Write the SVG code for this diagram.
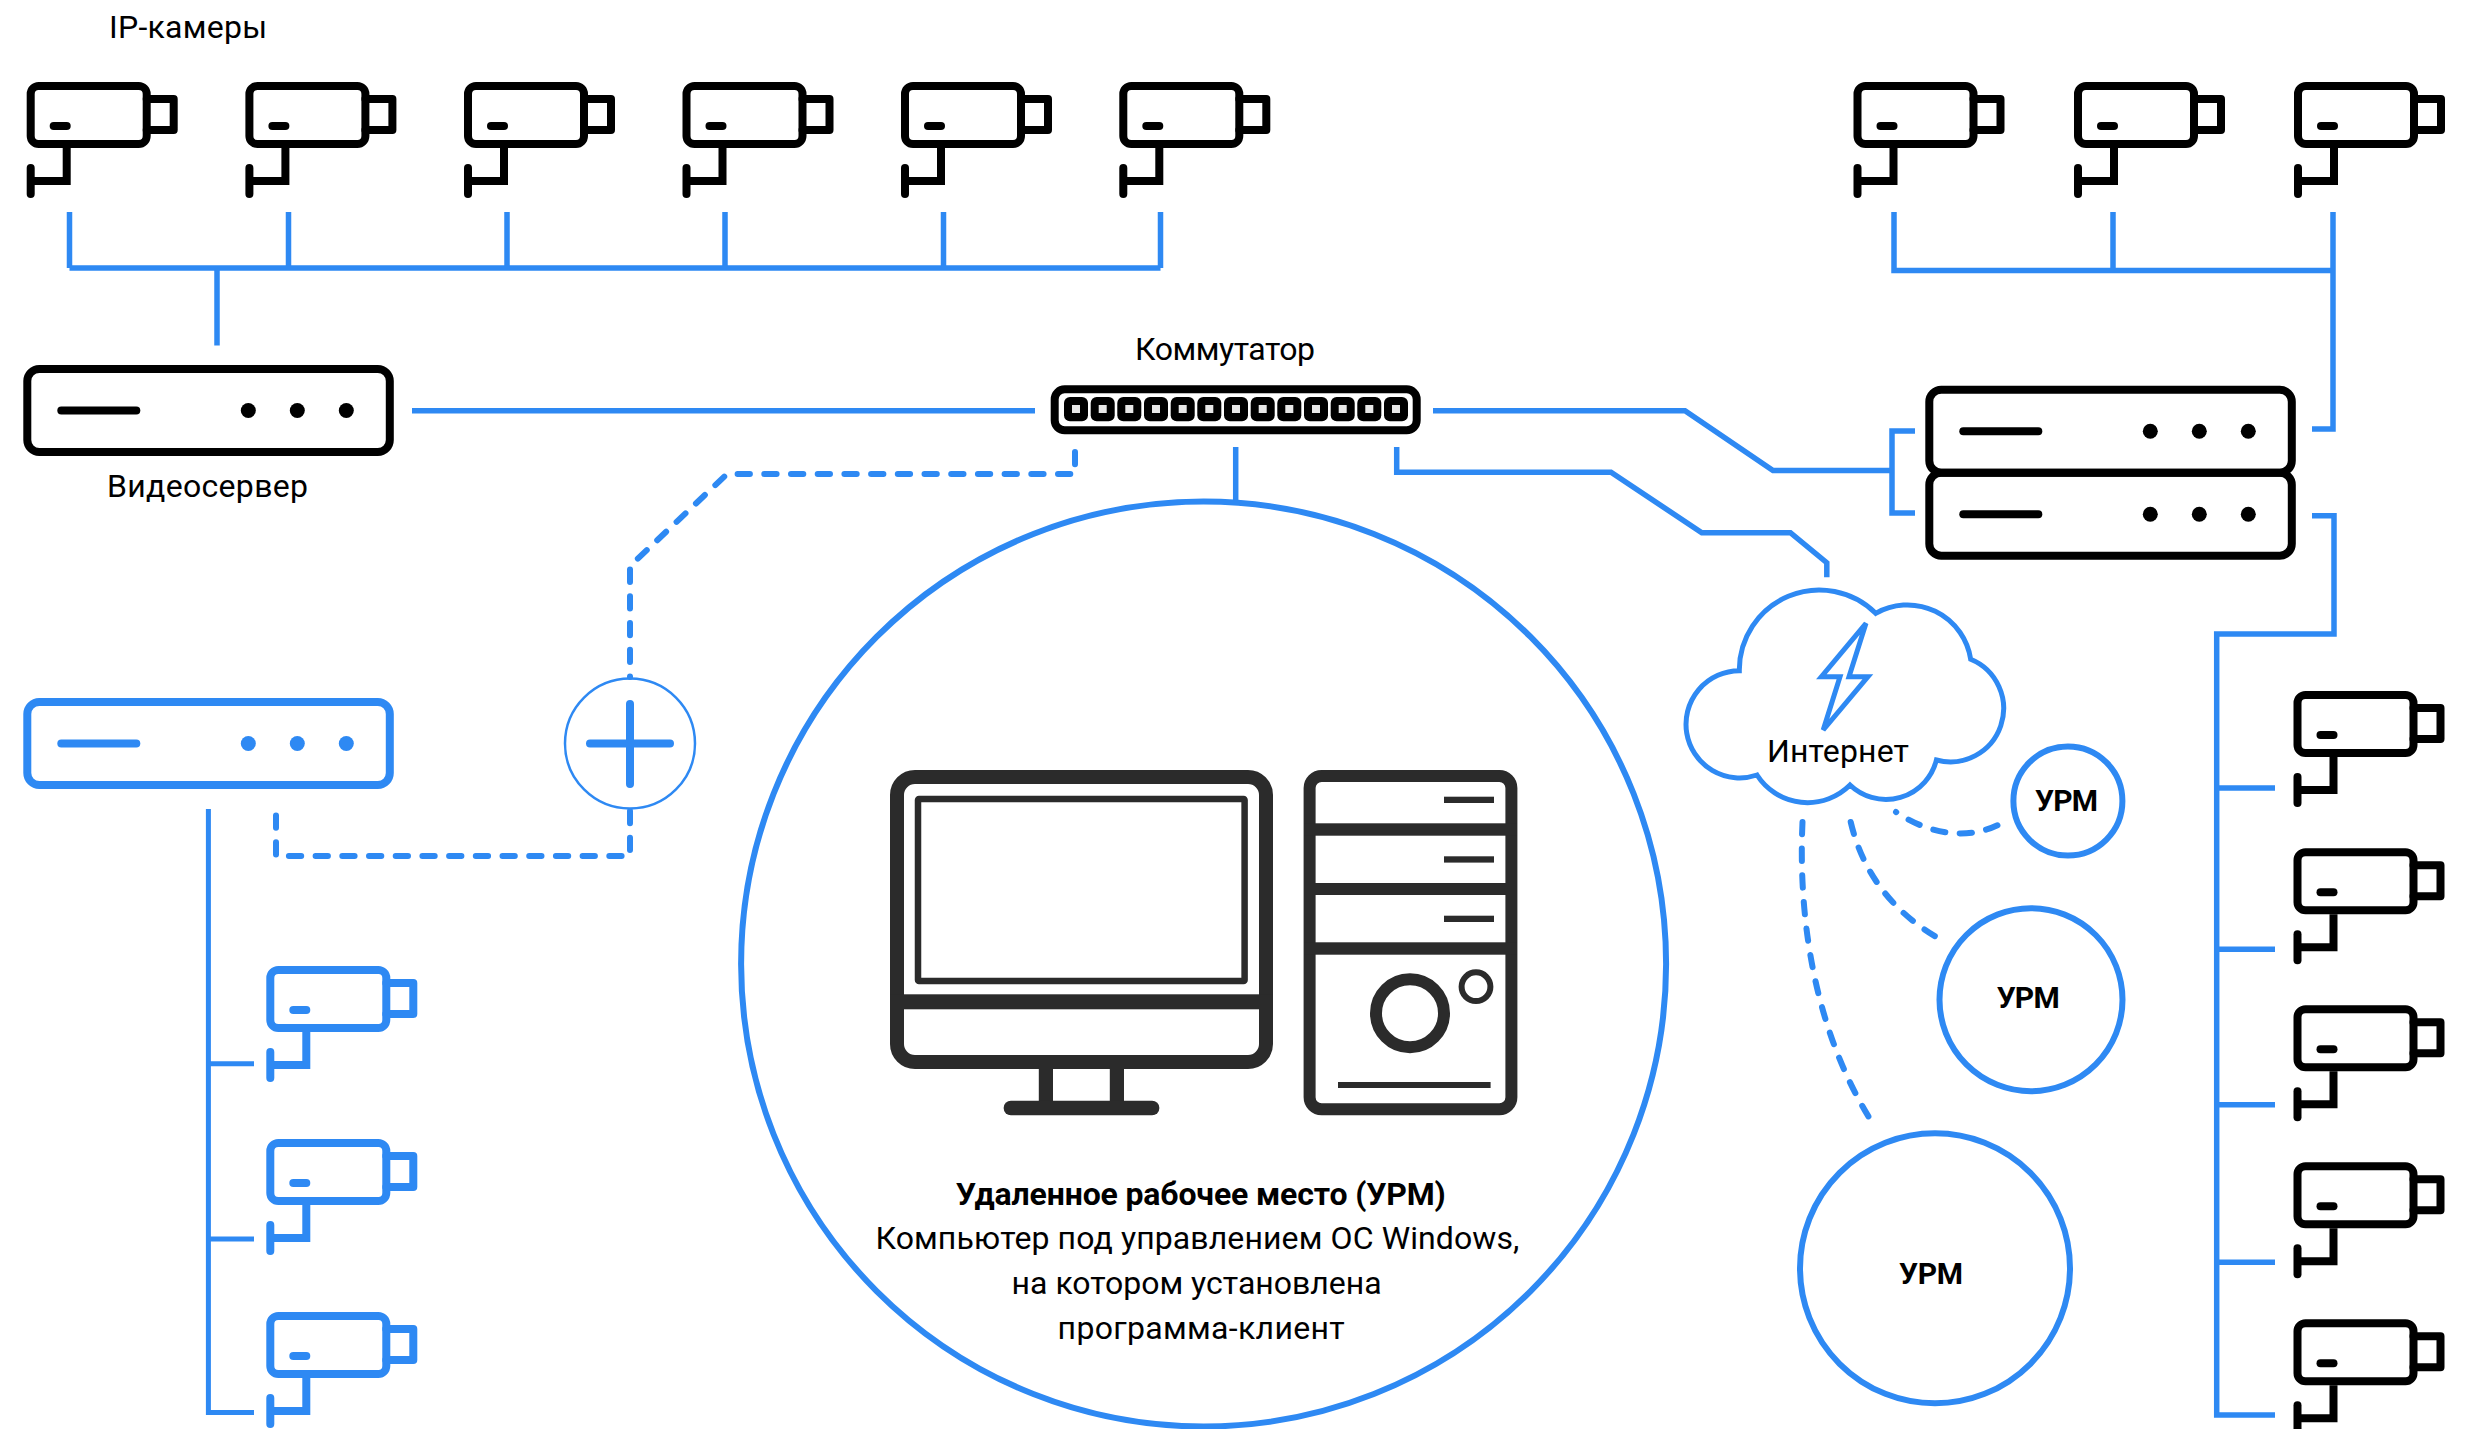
<svg xmlns="http://www.w3.org/2000/svg" xmlns:xlink="http://www.w3.org/1999/xlink" width="2467" height="1429" viewBox="0 0 2467 1429">
<style>
text{font-family:"Roboto","Liberation Sans",sans-serif;font-size:32px;fill:#000}
.b{font-weight:700}
.u{font-size:30px}
.icon{fill:none;stroke:currentColor;stroke-width:8;stroke-linecap:round;stroke-linejoin:round}
.blk{color:#000}.blu{color:#2e89f3}
.cn{fill:none;stroke:#2e89f3;stroke-width:5.5;stroke-linejoin:miter}
.ds{fill:none;stroke:#2e89f3;stroke-width:6;stroke-linecap:round;stroke-linejoin:round;stroke-dasharray:12.3 14.4}
.ci{fill:#fff;stroke:#2e89f3;stroke-width:6}
.pc{fill:#2b2b2b}
.pl{fill:none;stroke:#2b2b2b}
</style>
<defs>
<g id="cam" class="icon">
<rect x="4" y="4" width="116" height="58" rx="8"/>
<path d="M120 17H147V48H120"/>
<path d="M27 44H40"/>
<path d="M40 66V99H4" stroke-linecap="butt" stroke-linejoin="miter"/>
<path d="M4 86V112"/>
</g>
<g id="srv">
<rect class="icon" x="4" y="4" width="362.500" height="83" rx="12"/>
<path class="icon" d="M38 45.500H113"/>
<circle cx="225" cy="45.500" r="7.500" fill="currentColor"/>
<circle cx="274" cy="45.500" r="7.500" fill="currentColor"/>
<circle cx="323" cy="45.500" r="7.500" fill="currentColor"/>
</g>
</defs>

<g id="connectors">
<path class="cn" d="M69.500 212V268M288.500 212V268M507 212V268M725 212V268M943.500 212V268M1160.500 212V268M69.500 268H1160.500M217 268V345.500"/>
<path class="cn" d="M1894 212V270.500H2333M2113 212V270.500M2333 212V429H2312"/>
<path class="cn" d="M412 410.700H1035"/>
<path class="cn" d="M1433 410.700H1685L1773 470.500H1892M1915 431H1892V513H1915"/>
<path class="cn" d="M1396.700 447V472.300H1611L1701.800 532.700H1790.400L1826.800 562.700V577.300"/>
<path class="cn" d="M1235.700 447V502"/>
<path class="cn" d="M2312 515.700H2334V634H2216.700V1415H2275M2216.700 788H2275M2216.700 949.300H2275M2216.700 1104.700H2275M2216.700 1262.300H2275"/>
<path class="cn" style="stroke-width:5" d="M208.400 809V1412.400H254M208.400 1063.700H254M208.400 1239H254"/>
<path class="ds" d="M1075 452V474H727L630 566V677"/>
<path class="ds" d="M630 811V856H276V814"/>
<path class="ds" d="M1802.500 822C1798 920 1815 1030 1870 1119"/>
<path class="ds" d="M1850.700 822C1862 870 1890 910 1938 938"/>
<path class="ds" stroke-dashoffset="12" d="M1896 812C1925 832 1965 842 2000 824"/>
</g>

<g id="cam-top-1" class="blk"><use xlink:href="#cam" href="#cam" x="26.700" y="82"/></g>
<g id="cam-top-2" class="blk"><use xlink:href="#cam" href="#cam" x="245.400" y="82"/></g>
<g id="cam-top-3" class="blk"><use xlink:href="#cam" href="#cam" x="464" y="82"/></g>
<g id="cam-top-4" class="blk"><use xlink:href="#cam" href="#cam" x="682.500" y="82"/></g>
<g id="cam-top-5" class="blk"><use xlink:href="#cam" href="#cam" x="901" y="82"/></g>
<g id="cam-top-6" class="blk"><use xlink:href="#cam" href="#cam" x="1119.300" y="82"/></g>
<g id="cam-topright-1" class="blk"><use xlink:href="#cam" href="#cam" x="1853.500" y="82"/></g>
<g id="cam-topright-2" class="blk"><use xlink:href="#cam" href="#cam" x="2074" y="82"/></g>
<g id="cam-topright-3" class="blk"><use xlink:href="#cam" href="#cam" x="2294" y="82"/></g>
<g id="cam-right-1" class="blk"><use xlink:href="#cam" href="#cam" x="2293.500" y="691"/></g>
<g id="cam-right-2" class="blk"><use xlink:href="#cam" href="#cam" x="2293.500" y="848.300"/></g>
<g id="cam-right-3" class="blk"><use xlink:href="#cam" href="#cam" x="2293.500" y="1005.300"/></g>
<g id="cam-right-4" class="blk"><use xlink:href="#cam" href="#cam" x="2293.500" y="1162.300"/></g>
<g id="cam-right-5" class="blk"><use xlink:href="#cam" href="#cam" x="2293.500" y="1319.300"/></g>
<g id="cam-blue-1" class="blu"><use xlink:href="#cam" href="#cam" x="266.300" y="966"/></g>
<g id="cam-blue-2" class="blu"><use xlink:href="#cam" href="#cam" x="266.300" y="1139"/></g>
<g id="cam-blue-3" class="blu"><use xlink:href="#cam" href="#cam" x="266.300" y="1312"/></g>

<g id="videoserver" class="blk"><use xlink:href="#srv" href="#srv" x="23.300" y="365"/><text x="107" y="497" textLength="201">Видеосервер</text></g>
<g id="server-blue" class="blu"><use xlink:href="#srv" href="#srv" x="23.300" y="698"/></g>
<g id="server-right-1" class="blk"><use xlink:href="#srv" href="#srv" x="1925.300" y="385.700"/></g>
<g id="server-right-2" class="blk"><use xlink:href="#srv" href="#srv" x="1925.300" y="468.700"/></g>
<g id="label-cameras"><text x="109" y="38" textLength="158">IP-камеры</text></g>

<g id="switch">
<rect x="1054.700" y="389.300" width="362" height="41" rx="10" fill="none" stroke="#000" stroke-width="8"/>
<g fill="#000">
<rect x="1064" y="397" width="24" height="24.300" rx="6"/><rect x="1090.700" y="397" width="24" height="24.300" rx="6"/><rect x="1117.300" y="397" width="24" height="24.300" rx="6"/><rect x="1144" y="397" width="24" height="24.300" rx="6"/><rect x="1170.700" y="397" width="24" height="24.300" rx="6"/><rect x="1197.300" y="397" width="24" height="24.300" rx="6"/><rect x="1224" y="397" width="24" height="24.300" rx="6"/><rect x="1250.700" y="397" width="24" height="24.300" rx="6"/><rect x="1277.300" y="397" width="24" height="24.300" rx="6"/><rect x="1304" y="397" width="24" height="24.300" rx="6"/><rect x="1330.700" y="397" width="24" height="24.300" rx="6"/><rect x="1357.300" y="397" width="24" height="24.300" rx="6"/><rect x="1384" y="397" width="24" height="24.300" rx="6"/>
</g>
<g fill="#e8e8e8">
<rect x="1072" y="405" width="8" height="8"/><rect x="1098.700" y="405" width="8" height="8"/><rect x="1125.300" y="405" width="8" height="8"/><rect x="1152" y="405" width="8" height="8"/><rect x="1178.700" y="405" width="8" height="8"/><rect x="1205.300" y="405" width="8" height="8"/><rect x="1232" y="405" width="8" height="8"/><rect x="1258.700" y="405" width="8" height="8"/><rect x="1285.300" y="405" width="8" height="8"/><rect x="1312" y="405" width="8" height="8"/><rect x="1338.700" y="405" width="8" height="8"/><rect x="1365.300" y="405" width="8" height="8"/><rect x="1392" y="405" width="8" height="8"/>
</g>
<text x="1135" y="360" textLength="180">Коммутатор</text>
</g>

<g id="plus">
<circle cx="630" cy="743.500" r="65" fill="none" stroke="#2e89f3" stroke-width="2.500"/>
<path class="icon blu" d="M590 743.500H670M630 704V784"/>
</g>

<g id="workstation">
<circle cx="1203.600" cy="964" r="462.500" fill="none" stroke="#2e89f3" stroke-width="6"/>
<rect class="pl" x="897" y="777" width="369" height="285" rx="18" stroke-width="14"/>
<rect class="pl" x="918" y="799" width="326.600" height="182" rx="1" stroke-width="6.500"/>
<rect class="pc" x="890" y="994.300" width="383" height="15"/>
<rect class="pc" x="1038.800" y="1065" width="14.200" height="38"/>
<rect class="pc" x="1109.800" y="1065" width="14.200" height="38"/>
<rect class="pc" x="1003.600" y="1100.700" width="155.800" height="14.600" rx="7.300"/>
<rect class="pl" x="1309.600" y="776" width="201.800" height="333.300" rx="12" stroke-width="12"/>
<rect class="pc" x="1304" y="823.300" width="213" height="12.400"/>
<rect class="pc" x="1304" y="883" width="213" height="12"/>
<rect class="pc" x="1304" y="942.300" width="213" height="12.400"/>
<rect class="pc" x="1444" y="796.700" width="50" height="6.300"/>
<rect class="pc" x="1444" y="856.300" width="50" height="6.300"/>
<rect class="pc" x="1444" y="915.700" width="50" height="6.300"/>
<circle class="pl" cx="1410" cy="1013.300" r="34" stroke-width="12"/>
<circle class="pl" cx="1476" cy="986.700" r="14.400" stroke-width="6"/>
<rect class="pc" x="1338" y="1082" width="152.600" height="6"/>
<text class="b" x="955.800" y="1205" textLength="490">Удаленное рабочее место (УРМ)</text>
<text x="875.400" y="1249" textLength="644">Компьютер под управлением ОС Windows,</text>
<text x="1011.600" y="1294.300" textLength="370">на котором установлена</text>
<text x="1057.600" y="1339.300" textLength="287">программа-клиент</text>
</g>

<g id="internet">
<path d="M1739.300 670.700A80 80 0 0 1 1875.700 613.300A64 64 0 0 1 1970.700 659.300A53.300 53.300 0 0 1 1936.400 760A52 52 0 0 1 1850 785A60 60 0 0 1 1757 775A53.600 53.600 0 1 1 1739.300 670.700Z" fill="none" stroke="#2e89f3" stroke-width="5" stroke-linejoin="miter"/>
<path d="M1866 623.300L1821.400 676.700H1840L1823.200 730L1867.900 676.700H1849Z" fill="none" stroke="#2e89f3" stroke-width="5"/>
<text x="1767" y="761.700" textLength="142">Интернет</text>
</g>

<g id="urm-small"><circle class="ci" cx="2067.900" cy="801" r="54.500"/><text class="b u" x="2035" y="810.700" textLength="63">УРМ</text></g>
<g id="urm-medium"><circle class="ci" cx="2031" cy="999.700" r="91.500"/><text class="b u" x="1996.700" y="1008" textLength="63">УРМ</text></g>
<g id="urm-large"><circle class="ci" cx="1935" cy="1268.300" r="135"/><text class="b u" x="1899" y="1284" textLength="64">УРМ</text></g>
</svg>
